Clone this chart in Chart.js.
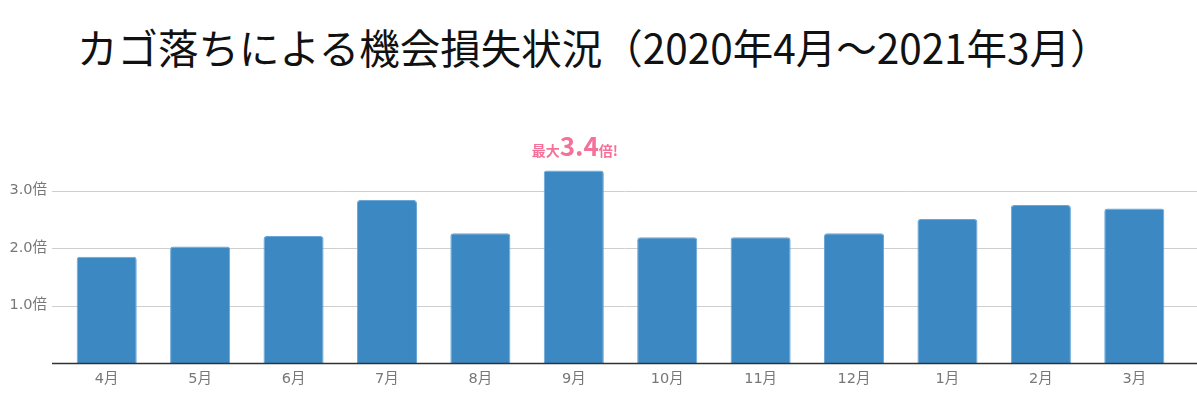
<!DOCTYPE html>
<html lang="ja">
<head>
<meta charset="utf-8">
<script src="https://cdn.jsdelivr.net/npm/chart.js@4.4.0/dist/chart.umd.min.js"></script>
<style>
  html, body { margin: 0; padding: 0; background: #fff; }
  #wrap { position: relative; width: 1197px; height: 400px; }
  #title { position: absolute; left: 77px; top: 21px; margin: 0; font-family: "Noto Sans CJK JP", sans-serif; font-weight: 400; font-size: 40.5px; line-height: 52px; color: #111; white-space: nowrap; }
  canvas { position: absolute; left: 0; top: 0; }
</style>
</head>
<body>
<div id="wrap">
  <h1 id="title">カゴ落ちによる機会損失状況（2020年4月～2021年3月）</h1>
  <canvas id="c" width="1197" height="400"></canvas>
</div>
<script>
const months = ['4月','5月','6月','7月','8月','9月','10月','11月','12月','1月','2月','3月'];
const lossRatio = [1.85, 2.03, 2.21, 2.84, 2.26, 3.35, 2.19, 2.19, 2.26, 2.51, 2.75, 2.69];
const yTicks = [1, 2, 3];
const yTickSuffix = '倍';
const peakLabel = ['最大', '3.4', '倍!'];

const barBlue = '#3c88c3';
const pink = '#f4729a';
const font = '"Noto Sans CJK JP", "Noto Sans", sans-serif';
const tickFont = '"DejaVu Sans", "Noto Sans CJK JP", sans-serif';

const gridPlugin = {
  id: 'gridExt',
  beforeDatasetsDraw(chart) {
    const ctx = chart.ctx, y = chart.scales.y;
    ctx.save();
    ctx.strokeStyle = '#cfcfcf';
    ctx.lineWidth = 1;
    yTicks.forEach(v => {
      const py = Math.round(y.getPixelForValue(v)) + 0.5;
      ctx.beginPath(); ctx.moveTo(52, py); ctx.lineTo(1197, py); ctx.stroke();
    });
    ctx.restore();
  },
  afterDatasetsDraw(chart) {
    const ctx = chart.ctx, y = chart.scales.y, x = chart.scales.x;
    ctx.save();
    const py = Math.round(y.getPixelForValue(0)) + 0.5;
    ctx.strokeStyle = '#333';
    ctx.lineWidth = 1.5;
    ctx.beginPath(); ctx.moveTo(52, py); ctx.lineTo(1197, py); ctx.stroke();
    // peak annotation
    let mi = 0;
    lossRatio.forEach((v, i) => { if (v > lossRatio[mi]) mi = i; });
    const cx = x.getPixelForValue(mi) + 1;
    const base = y.getPixelForValue(lossRatio[mi]) - 15;
    const fSmall = 'bold 14px ' + font, fBig = 'bold 26px ' + font;
    ctx.font = fSmall; const w1 = ctx.measureText(peakLabel[0]).width;
    ctx.font = fBig; const w2 = ctx.measureText(peakLabel[1]).width;
    ctx.font = fSmall; const w3 = ctx.measureText(peakLabel[2]).width;
    let sx = cx - (w1 + w2 + w3) / 2;
    ctx.fillStyle = pink; ctx.textBaseline = 'alphabetic'; ctx.textAlign = 'left';
    ctx.font = fSmall; ctx.fillText(peakLabel[0], sx, base); sx += w1;
    ctx.font = fBig; ctx.fillText(peakLabel[1], sx, base); sx += w2;
    ctx.font = fSmall; ctx.fillText(peakLabel[2], sx, base);
    ctx.restore();
  }
};

new Chart(document.getElementById('c'), {
  type: 'bar',
  data: {
    labels: months,
    datasets: [{
      data: lossRatio,
      backgroundColor: barBlue,
      borderColor: '#6aa6d6',
      borderWidth: 1,
      borderRadius: { topLeft: 3, topRight: 3 },
      borderSkipped: 'bottom',
      categoryPercentage: 1,
      barPercentage: 0.643
    }]
  },
  options: {
    responsive: false,
    animation: false,
    layout: { padding: { top: 162, right: 16, bottom: 5.5, left: 0 } },
    plugins: { legend: { display: false }, tooltip: { enabled: false }, title: { display: false } },
    scales: {
      x: {
        grid: { display: false, drawTicks: false },
        border: { display: false },
        ticks: { color: '#777', font: { family: tickFont, size: 14.5 }, padding: 7 }
      },
      y: {
        min: 0, max: 3.5,
        afterBuildTicks(scale) { scale.ticks = yTicks.map(v => ({ value: v })); },
        grid: { display: false, drawTicks: false },
        border: { display: false },
        afterFit(scale) { scale.width = 60; },
        ticks: {
          color: '#777', font: { family: tickFont, size: 14.5 }, padding: 13,
          callback: v => Number(v).toFixed(1) + yTickSuffix
        }
      }
    }
  },
  plugins: [gridPlugin]
});
</script>
</body>
</html>
